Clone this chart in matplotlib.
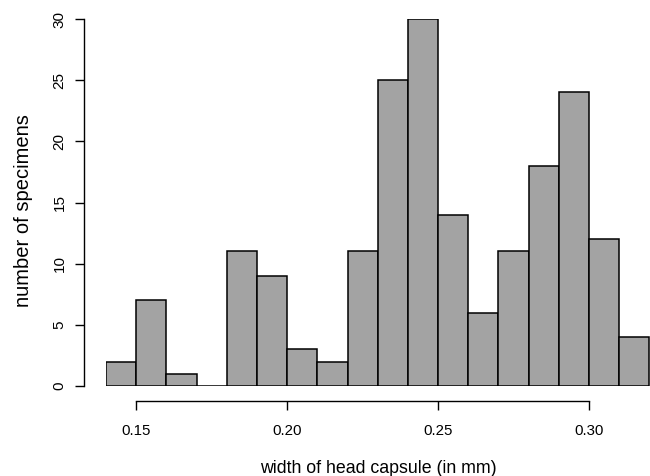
import matplotlib
matplotlib.use("Agg")
import matplotlib.pyplot as plt
import numpy as np

plt.rcParams['font.family'] = ['Liberation Sans', 'DejaVu Sans']

# bin edges (mm) and counts
bin_left = [0.14, 0.15, 0.16, 0.17, 0.18, 0.19, 0.20, 0.21, 0.22,
            0.23, 0.24, 0.25, 0.26, 0.27, 0.28, 0.29, 0.30, 0.31]
counts = [2, 7, 1, 0, 11, 9, 3, 2, 11, 25, 30, 14, 6, 11, 18, 24, 12, 4]
bin_width = 0.01
x_ticks = [0.15, 0.20, 0.25, 0.30]
x_tick_labels = ["0.15", "0.20", "0.25", "0.30"]
y_ticks = [0, 5, 10, 15, 20, 25, 30]

fig = plt.figure(figsize=(6.5, 4.76), dpi=100)
ax = fig.add_axes([106 / 650, 90 / 476, 544 / 650, 367 / 476])

ax.bar(bin_left, counts, width=bin_width, align='edge',
       color='#a3a3a3', edgecolor='black', linewidth=1.1)

ax.set_xlim(0.14, 0.3202)
ax.set_ylim(0, 30)

for s in ['top', 'right']:
    ax.spines[s].set_visible(False)
ax.spines['left'].set_position(('outward', 16))
ax.spines['bottom'].set_position(('outward', 11))
ax.spines['left'].set_bounds(0, 30)
ax.spines['bottom'].set_bounds(0.15, 0.30)
for s in ['left', 'bottom']:
    ax.spines[s].set_linewidth(1.0)

ax.set_xticks(x_ticks)
ax.set_xticklabels(x_tick_labels)
ax.set_yticks(y_ticks)
ax.set_yticklabels([str(v) for v in y_ticks], rotation=90, va='center')
ax.tick_params(axis='both', length=6.5, width=1.0)
ax.tick_params(axis='x', pad=10, labelsize=10.8)
ax.tick_params(axis='y', pad=6, labelsize=11)

ax.set_xlabel("width of head capsule (in mm)", fontsize=12.8, labelpad=16)
ax.set_ylabel("number of specimens", fontsize=14.5)
ax.yaxis.set_label_coords(-0.134, 0.477)

fig.savefig("out.png", dpi=100)
